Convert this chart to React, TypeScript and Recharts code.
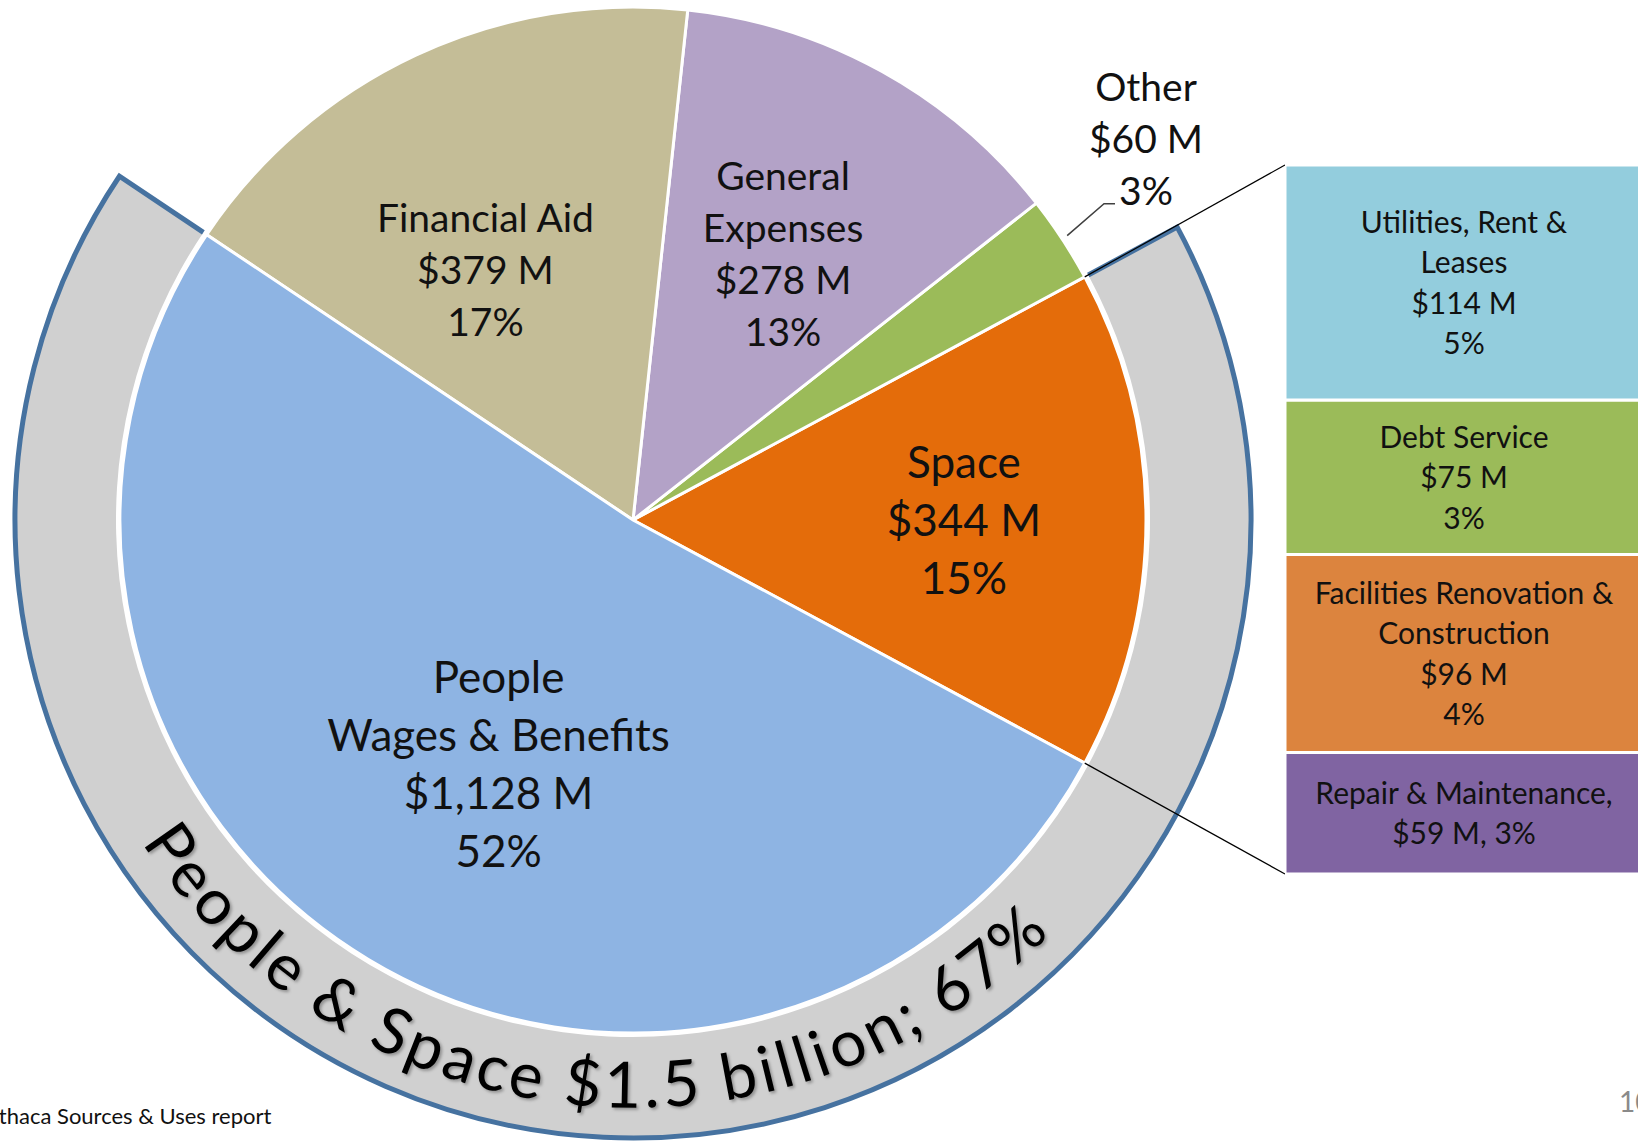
import React from 'react';
import { PieChart, Pie, Cell, BarChart, Bar, XAxis, YAxis } from 'recharts';

// main pie, counter-clockwise from the bottom edge of Space
const mainNames = ['Space', 'Other', 'General Expenses', 'Financial Aid', 'People'];
const mainValues = [344, 60, 278, 379, 1128];
const mainPcts = ['15%', '3%', '13%', '17%', '52%'];
const mainColors = ['#E46C0A', '#9BBB59', '#B3A2C7', '#C4BD97', '#8EB4E3'];
const mainLabelLines = [['Space'], ['Other'], ['General', 'Expenses'], ['Financial Aid'], ['People', 'Wages & Benefits']];

// breakdown of Space (top to bottom)
const spaceNames = ['Utilities, Rent & Leases', 'Debt Service', 'Facilities Renovation & Construction', 'Repair & Maintenance'];
const spaceValues = [114, 75, 96, 59];
const spacePcts = ['5%', '3%', '4%', '3%'];
const spaceColors = ['#93CDDD', '#9BBB59', '#DC843E', '#8064A2'];
const spaceLabelLines = [['Utilities, Rent &', 'Leases'], ['Debt Service'], ['Facilities Renovation &', 'Construction'], ['Repair & Maintenance,']];

const ringText = 'People & Space $1.5 billion;  67%';

const FONT = 'Lato, "Open Sans", sans-serif';
const W = 1638;
const H = 1143;
const CX = 633;
const CY = 520;
const R = 513;
const BAR_X = 1285;
const BAR_TOP = 165;
const BAR_H = 709;
const BAR_W = 358;

const RAD = Math.PI / 180;
const polar = (cx: number, cy: number, r: number, a: number) => [cx + r * Math.cos(a * RAD), cy - r * Math.sin(a * RAD)];
const money = (v: number) => `$${v.toLocaleString('en-US')} M`;

const total = mainValues.reduce((a, b) => a + b, 0);
const spaceDeg = (mainValues[0] / total) * 360;
const peopleDeg = (mainValues[4] / total) * 360;
const START = -spaceDeg / 2;
const RING_START = START - peopleDeg;

const mainData = mainNames.map((name, i) => ({ name, value: mainValues[i] }));
const ringData = [
  { name: 'People & Space', value: mainValues[0] + mainValues[4] },
  { name: 'Rest', value: mainValues[1] + mainValues[2] + mainValues[3] },
];
const barRow: any = { name: 'Space' };
spaceValues.forEach((v, i) => (barRow[`s${i}`] = v));
const barData = [barRow];
const spaceTotal = spaceValues.reduce((a, b) => a + b, 0);

const placement: Record<string, { r: number; da: number; size: number; lh: number }> = {
  Space: { r: 0.645, da: 0, size: 44, lh: 58 },
  Other: { r: 1.246, da: 3.4, size: 39, lh: 52 },
  'General Expenses': { r: 0.596, da: -0.4, size: 39, lh: 52 },
  'Financial Aid': { r: 0.566, da: 5.5, size: 39, lh: 52 },
  People: { r: 0.543, da: 2.2, size: 44, lh: 58 },
};

const renderMainLabel = (props: any) => {
  const { cx, cy, midAngle, outerRadius, index, startAngle, endAngle } = props;
  const name = mainNames[index];
  const p = placement[name];
  const [x, y] = polar(cx, cy, outerRadius * p.r, midAngle + p.da);
  const lines = [...mainLabelLines[index], money(mainValues[index]), mainPcts[index]];
  const y0 = y - ((lines.length - 1) * p.lh) / 2 + p.size * 0.36;
  let extra = null;
  if (name === 'Other') {
    const [sx, sy] = polar(cx, cy, outerRadius + 6, midAngle);
    extra = <polyline points={`${sx},${sy} ${x - 42},${y + 65} ${x - 31},${y + 65}`} fill="none" stroke="#404040" strokeWidth={1.5} />;
  }
  if (name === 'Space') {
    const [tx, ty] = polar(cx, cy, outerRadius, endAngle);
    const [bx, by] = polar(cx, cy, outerRadius, startAngle);
    extra = (
      <g>
        <line x1={tx} y1={ty} x2={BAR_X} y2={BAR_TOP} stroke="#000" strokeWidth={1.2} />
        <line x1={bx} y1={by} x2={BAR_X} y2={BAR_TOP + BAR_H} stroke="#000" strokeWidth={1.2} />
      </g>
    );
  }
  return (
    <g>
      {extra}
      <text x={x} textAnchor="middle" fontSize={p.size} fill="#111" fontFamily={FONT}>
        {lines.map((l, i) => (
          <tspan key={i} x={x} y={y0 + i * p.lh}>
            {l}
          </tspan>
        ))}
      </text>
    </g>
  );
};

const renderRingLabel = (props: any) => {
  if (props.index !== 0) return <g />;
  const { cx, cy, innerRadius, outerRadius, startAngle, endAngle } = props;
  const [x1, y1] = polar(cx, cy, innerRadius, startAngle);
  const [x2, y2] = polar(cx, cy, outerRadius, startAngle);
  const [x3, y3] = polar(cx, cy, outerRadius, endAngle);
  const [x4, y4] = polar(cx, cy, innerRadius, endAngle);
  const large = endAngle - startAngle > 180 ? 1 : 0;
  const rt = innerRadius + (outerRadius - innerRadius) * 0.7;
  const mid = (startAngle + endAngle) / 2 - 3;
  const [ax, ay] = polar(cx, cy, rt, mid - 75);
  const [bx, by] = polar(cx, cy, rt, mid + 75);
  return (
    <g>
      <defs>
        <path id="ringTextPath" d={`M${ax},${ay} A${rt},${rt} 0 0 0 ${bx},${by}`} />
        <filter id="ringShadow" x="-10%" y="-10%" width="120%" height="120%">
          <feDropShadow dx="2" dy="2" stdDeviation="1.5" floodColor="#000" floodOpacity="0.3" />
        </filter>
      </defs>
      <path
        d={`M${x1},${y1} L${x2},${y2} A${outerRadius},${outerRadius} 0 ${large} 0 ${x3},${y3} L${x4},${y4}`}
        fill="none"
        stroke="#4672A0"
        strokeWidth={5}
        strokeLinejoin="miter"
      />
      <text fontSize={64} fill="#000" fontFamily={FONT} filter="url(#ringShadow)">
        <textPath href="#ringTextPath" startOffset="50%" textAnchor="middle" textLength={1045} lengthAdjust="spacing">
          {ringText}
        </textPath>
      </text>
    </g>
  );
};

const renderBarLabel = (props: any, i: number) => {
  const { x, y, width, height } = props;
  const head = spaceLabelLines[i];
  const v = money(spaceValues[i]);
  const lines = head[head.length - 1].endsWith(',') ? [...head, `${v}, ${spacePcts[i]}`] : [...head, v, spacePcts[i]];
  const size = 30;
  const lh = 40.5;
  const tx = x + width / 2;
  const y0 = y + height / 2 - ((lines.length - 1) * lh) / 2 + size * 0.36;
  return (
    <text x={tx} textAnchor="middle" fontSize={size} fill="#111" fontFamily={FONT}>
      {lines.map((l, k) => (
        <tspan key={k} x={tx} y={y0 + k * lh}>
          {l}
        </tspan>
      ))}
    </text>
  );
};

export default function App() {
  return (
    <div style={{ position: 'absolute', left: 0, top: 0, width: W, height: H, overflow: 'hidden', background: '#fff', fontFamily: FONT }}>
      <PieChart width={W} height={H} margin={{ top: 0, right: 0, bottom: 0, left: 0 }}>
        <Pie
          data={ringData}
          dataKey="value"
          nameKey="name"
          cx={CX}
          cy={CY}
          innerRadius={R + 4}
          outerRadius={R + 105}
          startAngle={RING_START}
          endAngle={RING_START + 360}
          stroke="none"
          label={renderRingLabel}
          labelLine={false}
          isAnimationActive={false}
        >
          <Cell fill="#D0D0D0" />
          <Cell fill="none" />
        </Pie>
        <Pie
          data={mainData}
          dataKey="value"
          nameKey="name"
          cx={CX}
          cy={CY}
          outerRadius={R}
          startAngle={START}
          endAngle={START + 360}
          stroke="#fff"
          strokeWidth={3}
          label={renderMainLabel}
          labelLine={false}
          isAnimationActive={false}
        >
          {mainData.map((d, i) => (
            <Cell key={d.name} fill={mainColors[i]} />
          ))}
        </Pie>
      </PieChart>

      <div style={{ position: 'absolute', left: BAR_X, top: BAR_TOP }}>
        <BarChart width={BAR_W} height={BAR_H} data={barData} margin={{ top: 0, right: 0, bottom: 0, left: 0 }} barCategoryGap={0} barGap={0}>
          <XAxis dataKey="name" hide />
          <YAxis hide domain={[0, spaceTotal]} />
          {[3, 2, 1, 0].map((i) => (
            <Bar
              key={spaceNames[i]}
              dataKey={`s${i}`}
              name={spaceNames[i]}
              stackId="space"
              fill={spaceColors[i]}
              stroke="#fff"
              strokeWidth={3}
              label={(p: any) => renderBarLabel(p, i)}
              isAnimationActive={false}
            />
          ))}
        </BarChart>
      </div>

      <div style={{ position: 'absolute', left: -7, top: 1102, fontSize: 22, color: '#111', whiteSpace: 'nowrap' }}>
        Ithaca Sources &amp; Uses report
      </div>
      <div style={{ position: 'absolute', left: 1619, top: 1084, fontSize: 28, color: '#8a8a8a' }}>10</div>
    </div>
  );
}
